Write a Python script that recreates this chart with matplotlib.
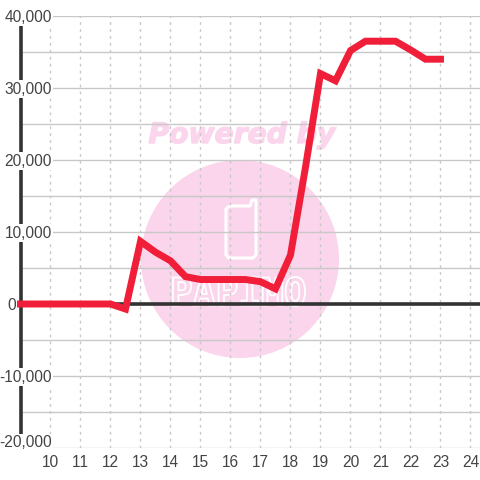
import matplotlib
matplotlib.use("Agg")
import matplotlib.pyplot as plt
from matplotlib import patheffects as pe
from matplotlib.font_manager import FontProperties
from matplotlib.patches import Circle, PathPatch
from matplotlib.path import Path
from matplotlib.textpath import TextPath
from matplotlib.transforms import Affine2D, IdentityTransform

HOURS = [9, 10, 11, 12, 12.5, 13, 13.5, 14, 14.5, 15, 15.5, 16, 16.5, 17, 17.5,
         18, 18.5, 19, 19.5, 20, 20.5, 21, 21.5, 22, 22.5, 23]
VALUES = [0, 0, 0, 0, -700, 8700, 7200, 6000, 3800, 3400, 3400, 3400, 3400, 3100, 2100,
          6800, 19000, 32000, 31000, 35200, 36500, 36500, 36500, 35300, 34000, 34000]
X_TICKS = list(range(10, 25))
Y_TICKS = [-20000, -10000, 0, 10000, 20000, 30000, 40000]
Y_MINOR = [-15000, -5000, 5000, 15000, 25000, 35000]

plt.rcParams["font.family"] = ["Liberation Sans", "DejaVu Sans"]
plt.rcParams["text.kerning_factor"] = 10
PINK = "#fbd5ec"
GREY = "#c8c8c8"
DARK = "#333333"
TEXT = "#444444"
LABEL_SIZE = 11.2

fig = plt.figure(figsize=(4.8, 4.8), dpi=100)
ax = fig.add_axes([20.5 / 480, 1 - 448 / 480, 459.5 / 480, 432 / 480])
ax.set_zorder(5)
ax.set_xlim(9, 24.317)
ax.set_ylim(-20000, 40000)
ax.patch.set_visible(False)
for side in ax.spines:
    ax.spines[side].set_visible(False)


def flip(x, y):
    # reference pixels (top-left origin) to display coords
    return x, 480 - y


# watermark behind the axes
pixels = IdentityTransform()
fig.add_artist(Circle(flip(240, 259), 99, transform=pixels, facecolor=PINK, edgecolor="none", zorder=0))
phone = [flip(229, 206), flip(250, 206), flip(252, 200), flip(256, 200), flip(256, 255), flip(253, 258),
         flip(229, 258), flip(226, 255), flip(226, 209), flip(229, 206)]
fig.add_artist(PathPatch(Path(phone), transform=pixels, facecolor="none", edgecolor="white",
                         linewidth=2.2, joinstyle="round", zorder=1))

brand = TextPath((0, 0), "PAPIMO", size=30, prop=FontProperties(family="DejaVu Sans Mono", weight="bold"))
box = brand.get_extents()
fit = (Affine2D().translate(-box.x0, -box.y0).scale(132 / box.width, 29 / box.height)
       .translate(173, 480 - 306))
fig.add_artist(PathPatch(brand, transform=fit + pixels, facecolor=PINK, edgecolor="white",
                         linewidth=1.3, zorder=1))
fig.text(242 / 480, 1 - 135 / 480, "Powered by", color=PINK, fontsize=20.3, fontweight="bold", fontstyle="italic",
         family="DejaVu Sans", ha="center", va="center", zorder=1,
         path_effects=[pe.withStroke(linewidth=1, foreground=PINK)])

# grid
ax.set_xticks(X_TICKS)
ax.set_yticks(Y_TICKS)
ax.set_yticks(Y_MINOR, minor=True)
ax.grid(True, axis="x", color=GREY, linewidth=1, linestyle=(0, (2, 3)), zorder=1)
ax.grid(True, axis="y", which="both", color=GREY, linewidth=1, zorder=1)
ax.tick_params(axis="both", which="both", length=0)
ax.tick_params(axis="x", labelsize=LABEL_SIZE, labelcolor=TEXT, pad=5)
ax.set_yticklabels([])

ax.axvline(9, color=DARK, linewidth=2.6, zorder=2, clip_on=False)
ax.axhline(0, color=DARK, linewidth=2.6, zorder=2)
ax.plot(HOURS, VALUES, color="#f01e38", linewidth=5, solid_joinstyle="miter",
        solid_capstyle="projecting", zorder=3, clip_on=False)

# y labels sit over the axis on white boxes, the zero label left of it
for value in Y_TICKS:
    if value == 0:
        ax.annotate("0", (9, value), xytext=(-3, -1), textcoords="offset points", fontsize=LABEL_SIZE,
                    color=TEXT, ha="right", va="center", zorder=4, annotation_clip=False)
        continue
    shift = 4 if value == -20000 else -1
    ax.annotate(f"{value:,}", (10, value), xytext=(1, shift), textcoords="offset points", fontsize=LABEL_SIZE,
                color=TEXT, ha="right", va="center", zorder=4, annotation_clip=False,
                bbox=dict(facecolor="white", edgecolor="none", pad=1))

fig.savefig("out.png", dpi=100)
